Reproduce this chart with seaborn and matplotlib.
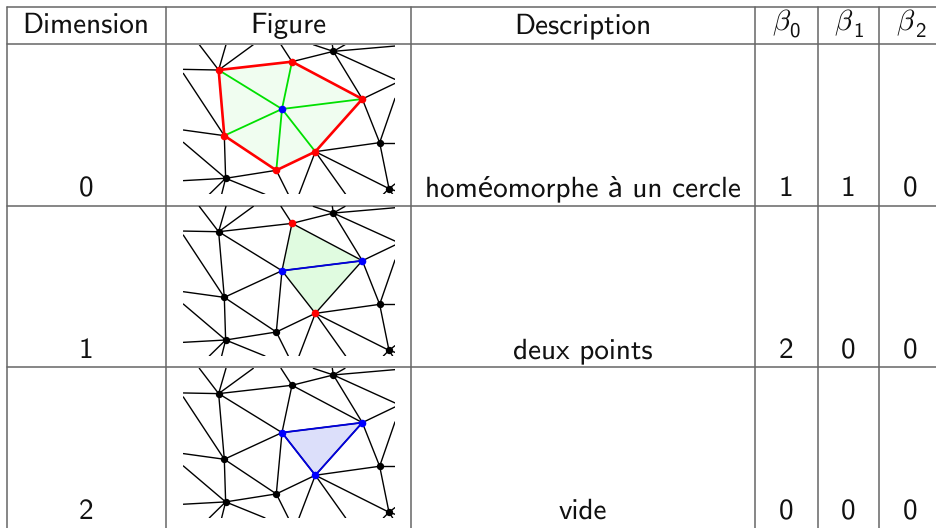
import pandas as pd
import seaborn as sns
import matplotlib.pyplot as plt

# table content
headers = ["Dimension", "Figure", "Description"]
beta_head = [r"$\beta$", r"$\beta$", r"$\beta$"]
beta_sub = ["0", "1", "2"]
dimensions = ["0", "1", "2"]
descriptions = ["homéomorphe à un cercle", "deux points", "vide"]
beta0 = ["1", "2", "0"]
beta1 = ["1", "0", "0"]
beta2 = ["0", "0", "0"]

# grid, in pixels of the picture
col_x = [6.5, 166, 411, 755, 817.5, 879]
row_y = [7, 44, 205.5, 367]
head_base = 33
row_base = [196, 358, 519]
beta_x = [771.5, 834.5, 895.5]
sub_x = [789.5, 853, 915]

# mesh
nodes = {
    "A": (146, 90), "B": (366, 65), "C": (577, 177), "D": (436, 335),
    "E": (319, 391), "F": (163, 287), "O": (336, 207), "G": (490, 34),
    "H": (629, 308), "I": (167, 415), "J": (657, 446),
}
ring = ["A", "B", "C", "D", "E", "F"]
tri_edges = [("G", "B"), ("G", "C"), ("C", "H"), ("D", "H"), ("H", "J"), ("D", "J"), ("E", "I"), ("F", "I")]
# lines leaving the frame
stubs = [
    ("A", 40, 88), ("A", 88, 14), ("A", 168, 14), ("A", 250, 14), ("B", 333, 14),
    ("G", 430, 14), ("G", 487, 14), ("G", 525, 14), ("G", 675, 18), ("G", 675, 118),
    ("C", 675, 130), ("H", 675, 175), ("H", 675, 308), ("J", 675, 432), ("J", 675, 452),
    ("J", 640, 463), ("J", 668, 463), ("D", 387, 463), ("D", 527, 463),
    ("E", 355, 463), ("F", 40, 100), ("F", 40, 270), ("I", 40, 422), ("I", 40, 307),
    ("I", 118, 463), ("I", 155, 463), ("I", 285, 463),
]
panel_dy = [0, 161.7, 323.6]
panel_x = (183.3, 395.0)
panel_y = (44.7, 194.3)
frame_x = (40, 675)
frame_y = (14, 463)

W, H = 936, 528
GREY = "#666666"


def draw_edges(ax, pairs, color, lw, z=2):
    rows = []
    for i, (a, b) in enumerate(pairs):
        bx, by = b if isinstance(b, tuple) else nodes[b]
        rows.append((i, *nodes[a]))
        rows.append((i, bx, by))
    df = pd.DataFrame(rows, columns=["edge", "x", "y"])
    sns.lineplot(data=df, x="x", y="y", units="edge", estimator=None, sort=False,
                 color=color, linewidth=lw, ax=ax, zorder=z, legend=False)


def draw_nodes(ax, names, color, size):
    df = pd.DataFrame([nodes[n] for n in names], columns=["x", "y"])
    sns.scatterplot(data=df, x="x", y="y", color=color, s=size, linewidth=0, ax=ax,
                    zorder=5, legend=False, clip_on=False)


sns.set_theme(style="white")
plt.rcParams["font.family"] = ["cmss10", "Lato"]
plt.rcParams["mathtext.fontset"] = "cm"
plt.rcParams["axes.unicode_minus"] = False
plt.rcParams["text.hinting"] = "no_hinting"
plt.rcParams["text.hinting_factor"] = 1

fig = plt.figure(figsize=(W / 100, H / 100), dpi=100)
bg = fig.add_axes([0, 0, 1, 1])
bg.set_xlim(0, W)
bg.set_ylim(H, 0)
bg.axis("off")
for x in col_x:
    bg.plot([x, x], [row_y[0], H], color=GREY, lw=1.1, zorder=1)
for y in row_y:
    bg.plot([col_x[0], W], [y, y], color=GREY, lw=1.1, zorder=1)

FS = 21
centres = [86, 288.5, 583]
for c, h in zip(centres, headers):
    bg.text(c, head_base, h, ha="center", va="baseline", fontsize=FS, color="#111111")
for i in range(3):
    bg.text(beta_x[i], 30, beta_head[i], ha="left", va="baseline", fontsize=FS, color="#111111")
    bg.text(sub_x[i], 37, beta_sub[i], ha="left", va="baseline", fontsize=15, color="#111111")
for r in range(3):
    bg.text(centres[0], row_base[r], dimensions[r], ha="center", va="baseline", fontsize=FS, color="#111111")
    bg.text(centres[2], row_base[r], descriptions[r], ha="center", va="baseline", fontsize=FS, color="#111111")
    bg.text(786, row_base[r], beta0[r], ha="center", va="baseline", fontsize=FS, color="#111111")
    bg.text(848, row_base[r], beta1[r], ha="center", va="baseline", fontsize=FS, color="#111111")
    bg.text(910, row_base[r], beta2[r], ha="center", va="baseline", fontsize=FS, color="#111111")

ring_edges = [(ring[i], ring[(i + 1) % 6]) for i in range(6)]
spoke_edges = [("O", s) for s in ring]
stub_edges = [(a, (x, y)) for a, x, y in stubs]

for k, dy in enumerate(panel_dy):
    ax = fig.add_axes([panel_x[0] / W, 1 - (panel_y[1] + dy) / H,
                       (panel_x[1] - panel_x[0]) / W, (panel_y[1] - panel_y[0]) / H])
    ax.set_xlim(*frame_x)
    ax.set_ylim(frame_y[1], frame_y[0])
    ax.axis("off")
    ax.patch.set_alpha(0)
    draw_edges(ax, stub_edges + tri_edges, "black", 1.0)
    if k == 0:
        ax.fill(*zip(*[nodes[n] for n in ring]), color="#f0fdf0", zorder=1, lw=0)
        draw_edges(ax, spoke_edges, "#00e000", 1.3, z=3)
        draw_edges(ax, ring_edges, "#ff0000", 1.9, z=4)
        draw_nodes(ax, ["G", "H", "I", "J"], "black", 28)
        draw_nodes(ax, ring, "#ff0000", 30)
        draw_nodes(ax, ["O"], "#0000ff", 30)
    elif k == 1:
        ax.fill(*zip(*[nodes[n] for n in ["B", "C", "D", "O"]]), color="#e0fbe0", zorder=1, lw=0)
        draw_edges(ax, ring_edges + spoke_edges, "black", 1.0)
        draw_edges(ax, [("O", "C")], "#0000e0", 1.3, z=3)
        draw_nodes(ax, ["A", "E", "F", "G", "H", "I", "J"], "black", 28)
        draw_nodes(ax, ["B", "D"], "#ff0000", 30)
        draw_nodes(ax, ["O", "C"], "#0000ff", 30)
    else:
        ax.fill(*zip(*[nodes[n] for n in ["O", "C", "D"]]), color="#dcdffa", zorder=1, lw=0)
        draw_edges(ax, ring_edges + spoke_edges, "black", 1.0)
        draw_edges(ax, [("O", "C"), ("C", "D"), ("D", "O")], "#0000e0", 1.3, z=3)
        draw_nodes(ax, ["A", "B", "E", "F", "G", "H", "I", "J"], "black", 28)
        draw_nodes(ax, ["O", "C", "D"], "#0000ff", 30)

fig.savefig("out.png", dpi=100)
